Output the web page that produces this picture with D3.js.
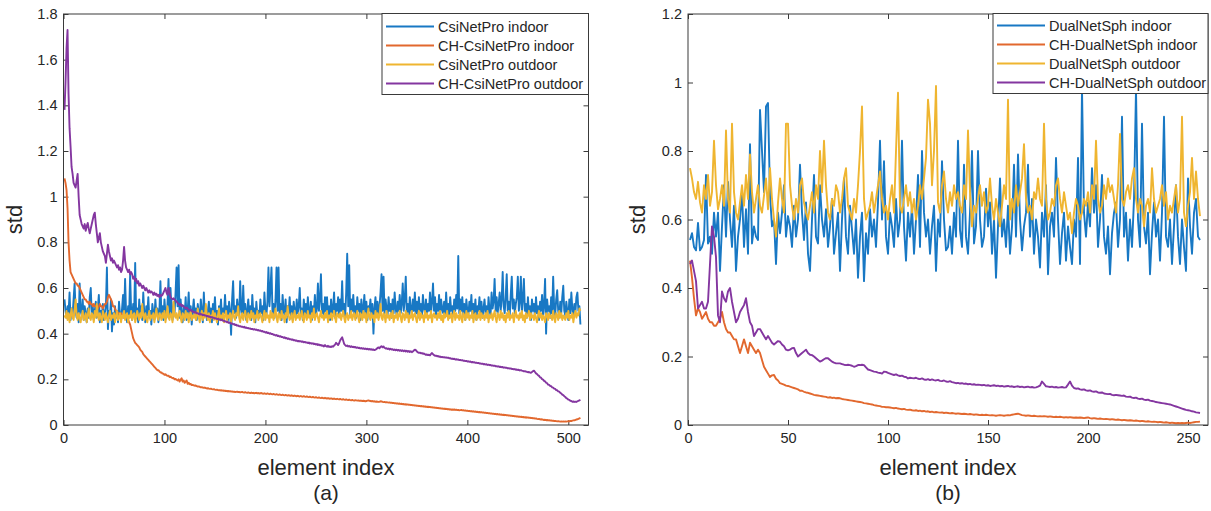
<!DOCTYPE html>
<html><head><meta charset="utf-8">
<script src="https://cdnjs.cloudflare.com/ajax/libs/d3/7.8.5/d3.min.js"></script>
<style>
html,body{margin:0;padding:0;background:#fff;}
svg{display:block;}
text{font-family:"Liberation Sans",Arial,Helvetica,sans-serif;}
</style></head>
<body>
<svg id="chart" width="1211" height="511"></svg>
<script>
// ---------- DATA ----------
const aXTicks = [0,100,200,300,400,500];
const aYTicks = [0,0.2,0.4,0.6,0.8,1,1.2,1.4,1.6,1.8];
const aYLabels = ["0","0.2","0.4","0.6","0.8","1","1.2","1.4","1.6","1.8"];
const bXTicks = [0,50,100,150,200,250];
const bYTicks = [0,0.2,0.4,0.6,0.8,1,1.2];
const bYLabels = ["0","0.2","0.4","0.6","0.8","1","1.2"];

const aNames = ["CsiNetPro indoor","CH-CsiNetPro indoor","CsiNetPro outdoor","CH-CsiNetPro outdoor"];
const bNames = ["DualNetSph indoor","CH-DualNetSph indoor","DualNetSph outdoor","CH-DualNetSph outdoor"];

// (a) CsiNetPro indoor
const aBlue = [
.55,.50,.47,.52,.49,.58,.46,.51,.48,.55,.62,.50,.47,.53,.45,.62,
.50,.48,.55,.46,.52,.49,.45,.51,.47,.56,.60,.48,.52,.46,.50,.54,
.47,.51,.57,.45,.50,.48,.53,.46,.49,.52,.69,.42,.50,.47,.55,.41,
.49,.44,.52,.47,.50,.45,.54,.48,.46,.51,.57,.47,.64,.49,.45,.52,
.48,.66,.50,.46,.53,.49,.71,.47,.51,.45,.55,.48,.52,.46,.58,.49,
.45,.52,.48,.56,.47,.50,.44,.53,.49,.46,.55,.48,.51,.45,.50,.63,
.48,.52,.46,.55,.49,.47,.53,.64,.48,.60,.50,.46,.54,.49,.58,.69,
.52,.70,.47,.55,.49,.45,.52,.48,.56,.46,.50,.58,.47,.52,.44,.50,
.55,.48,.51,.46,.53,.49,.47,.55,.50,.45,.58,.48,.52,.46,.50,.54,
.47,.51,.45,.53,.49,.56,.47,.50,.44,.52,.48,.55,.46,.51,.49,.57,
.48,.52,.46,.54,.50,.395,.55,.63,.49,.52,.47,.55,.50,.48,.63,.51,
.47,.61,.49,.53,.46,.50,.55,.48,.52,.46,.57,.49,.51,.45,.54,.48,
.50,.47,.55,.49,.52,.46,.58,.50,.48,.54,.69,.52,.60,.69,.49,.53,
.47,.55,.69,.50,.69,.48,.53,.46,.57,.50,.48,.55,.45,.52,.49,.56,
.48,.52,.46,.54,.50,.47,.55,.49,.52,.60,.48,.51,.46,.55,.49,.53,
.47,.56,.50,.48,.54,.46,.52,.49,.57,.48,.51,.62,.50,.55,.66,.49,
.53,.47,.56,.50,.56,.48,.52,.46,.55,.49,.51,.58,.47,.53,.50,.56,
.48,.55,.50,.63,.49,.53,.47,.58,.75,.52,.70,.48,.55,.50,.57,.49,
.52,.47,.56,.50,.53,.46,.55,.49,.51,.57,.48,.54,.46,.52,.50,.55,
.48,.53,.40,.51,.56,.49,.54,.48,.52,.58,.66,.50,.65,.49,.55,.51,
.48,.56,.50,.53,.47,.55,.49,.58,.51,.48,.54,.50,.57,.49,.53,.62,
.50,.55,.65,.49,.53,.47,.56,.51,.48,.55,.50,.58,.49,.54,.47,.56,
.50,.53,.48,.57,.51,.49,.55,.48,.53,.50,.58,.49,.54,.62,.50,.56,
.48,.53,.50,.57,.47,.55,.51,.49,.54,.48,.58,.50,.53,.47,.56,.50,
.52,.48,.55,.50,.57,.51,.74,.49,.55,.50,.56,.48,.53,.46,.55,.50,
.48,.54,.50,.57,.47,.53,.49,.55,.46,.52,.50,.56,.48,.54,.47,.51,
.55,.49,.52,.47,.56,.50,.48,.58,.51,.54,.64,.50,.56,.49,.53,.58,
.50,.55,.67,.52,.49,.56,.66,.50,.54,.48,.57,.65,.51,.55,.49,.53,
.56,.65,.50,.54,.65,.49,.55,.64,.50,.53,.47,.56,.49,.52,.46,.55,
.50,.53,.47,.56,.49,.52,.46,.54,.50,.57,.48,.53,.64,.40,.55,.50,
.52,.47,.56,.49,.65,.51,.48,.55,.59,.50,.47,.54,.49,.56,.61,.50,
.48,.54,.50,.46,.55,.49,.58,.51,.47,.53,.49,.56,.58,.50,.52,.44];

// (a) CH-CsiNetPro indoor
const aOrange = [
1.08,1.06,1.03,0.95,0.80,0.72,0.67,0.66,0.65,0.64,0.63,0.62,0.62,0.61,0.61,0.60,
0.59,0.58,0.57,0.56,0.55,0.55,0.54,0.54,0.53,0.54,0.53,0.53,0.52,0.53,0.52,0.52,
0.52,0.51,0.52,0.53,0.52,0.52,0.51,0.52,0.53,0.53,0.54,0.56,0.57,0.56,0.55,0.54,
0.52,0.52,0.51,0.50,0.50,0.49,0.49,0.48,0.49,0.48,0.48,0.47,0.47,0.47,0.48,0.46,
0.45,0.44,0.42,0.40,0.38,0.37,0.36,0.355,0.35,0.345,0.34,0.33,0.325,0.32,0.31,0.305,
0.30,0.295,0.29,0.285,0.28,0.275,0.27,0.265,0.26,0.255,0.25,0.245,0.24,0.24,0.235,0.23,
0.23,0.225,0.225,0.22,0.222,0.218,0.215,0.216,0.21,0.212,0.208,0.205,0.206,0.20,0.202,0.198,
0.195,0.20,0.19,0.198,0.205,0.19,0.195,0.185,0.19,0.195,0.18,0.185,0.178,0.18,0.175,0.176,
0.174,0.172,0.173,0.17,0.168,0.169,0.167,0.165,0.166,0.164,0.163,0.164,0.162,0.16,0.161,0.159,
0.158,0.159,0.157,0.156,0.157,0.155,0.154,0.155,0.153,0.152,0.153,0.151,0.152,0.15,0.151,0.149,
0.15,0.148,0.149,0.147,0.148,0.146,0.147,0.145,0.146,0.144,0.145,0.146,0.144,0.145,0.143,0.144,
0.145,0.143,0.142,0.144,0.142,0.141,0.143,0.141,0.14,0.142,0.14,0.141,0.139,0.14,0.141,0.139,
0.14,0.138,0.139,0.14,0.138,0.137,0.139,0.137,0.136,0.138,0.136,0.135,0.137,0.135,0.134,0.136,
0.134,0.133,0.135,0.133,0.132,0.134,0.132,0.131,0.133,0.131,0.13,0.132,0.13,0.129,0.131,0.129,
0.128,0.13,0.128,0.127,0.129,0.127,0.126,0.128,0.126,0.125,0.127,0.125,0.124,0.126,0.124,0.123,
0.125,0.123,0.122,0.124,0.122,0.121,0.123,0.121,0.12,0.122,0.12,0.119,0.121,0.119,0.118,0.12,
0.118,0.117,0.119,0.117,0.116,0.118,0.116,0.115,0.117,0.115,0.114,0.116,0.114,0.113,0.115,0.113,
0.112,0.114,0.112,0.111,0.113,0.111,0.11,0.112,0.11,0.109,0.111,0.109,0.108,0.11,0.108,0.107,
0.109,0.108,0.107,0.108,0.106,0.107,0.106,0.105,0.106,0.105,0.104,0.105,0.107,0.108,0.106,0.105,
0.104,0.105,0.103,0.104,0.102,0.103,0.102,0.101,0.102,0.104,0.103,0.101,0.1,0.101,0.099,0.1,
0.099,0.098,0.099,0.097,0.098,0.096,0.097,0.095,0.096,0.094,0.095,0.093,0.094,0.092,0.093,0.091,
0.092,0.09,0.091,0.089,0.09,0.088,0.089,0.087,0.088,0.086,0.087,0.085,0.086,0.084,0.085,0.083,
0.084,0.082,0.083,0.081,0.082,0.08,0.081,0.079,0.08,0.078,0.079,0.077,0.078,0.076,0.077,0.075,
0.076,0.074,0.075,0.073,0.074,0.072,0.073,0.071,0.072,0.07,0.071,0.069,0.07,0.068,0.069,0.067,
0.068,0.067,0.068,0.066,0.067,0.065,0.066,0.064,0.065,0.066,0.064,0.065,0.063,0.064,0.062,0.063,
0.061,0.062,0.06,0.061,0.059,0.06,0.058,0.059,0.057,0.058,0.056,0.057,0.055,0.056,0.054,0.055,
0.053,0.054,0.052,0.053,0.051,0.052,0.05,0.051,0.049,0.05,0.048,0.049,0.047,0.048,0.046,0.047,
0.045,0.046,0.044,0.045,0.043,0.044,0.042,0.043,0.041,0.042,0.04,0.041,0.039,0.04,0.038,0.039,
0.037,0.038,0.036,0.037,0.035,0.036,0.034,0.035,0.033,0.034,0.032,0.033,0.031,0.032,0.03,0.031,
0.029,0.03,0.028,0.029,0.027,0.026,0.027,0.025,0.024,0.025,0.023,0.022,0.023,0.021,0.022,0.02,
0.021,0.019,0.02,0.018,0.019,0.017,0.018,0.017,0.016,0.017,0.016,0.015,0.016,0.015,0.016,0.015,
0.016,0.015,0.016,0.017,0.016,0.018,0.017,0.019,0.02,0.021,0.022,0.024,0.025,0.027,0.029,0.031];

// (a) CsiNetPro outdoor
const aYellow = [
.48,.47,.50,.46,.49,.45,.48,.51,.47,.46,.50,.55,.48,.46,.49,.47,
.45,.48,.50,.46,.47,.49,.45,.48,.51,.47,.46,.49,.48,.45,.50,.47,
.53,.48,.46,.49,.47,.45,.50,.48,.46,.49,.47,.45,.48,.50,.46,.48,
.47,.49,.45,.48,.50,.46,.47,.49,.45,.48,.47,.50,.46,.48,.49,.45,
.48,.47,.50,.46,.48,.49,.45,.47,.50,.48,.46,.49,.47,.53,.48,.46,
.49,.47,.45,.48,.50,.46,.48,.47,.49,.45,.48,.51,.47,.46,.49,.48,
.46,.49,.47,.50,.45,.48,.52,.47,.46,.49,.48,.45,.54,.48,.47,.49,
.46,.48,.50,.47,.45,.49,.48,.46,.50,.47,.49,.45,.48,.50,.46,.48,
.47,.49,.46,.48,.51,.47,.45,.48,.50,.46,.49,.47,.53,.48,.46,.49,
.45,.48,.47,.50,.46,.49,.47,.45,.48,.51,.46,.48,.47,.49,.45,.48,
.50,.46,.48,.47,.49,.45,.48,.50,.47,.46,.49,.48,.52,.47,.45,.48,
.49,.46,.48,.50,.47,.45,.49,.48,.46,.50,.47,.49,.45,.48,.47,.50,
.46,.48,.49,.47,.45,.48,.50,.46,.49,.47,.48,.45,.50,.47,.49,.46,
.48,.51,.47,.45,.49,.48,.46,.50,.47,.48,.45,.49,.47,.52,.48,.46,
.47,.49,.45,.48,.50,.46,.48,.47,.49,.46,.48,.50,.47,.45,.49,.48,
.46,.50,.47,.48,.45,.49,.47,.51,.46,.48,.49,.47,.45,.48,.50,.47,
.48,.46,.49,.47,.50,.45,.48,.47,.49,.46,.48,.50,.47,.45,.49,.48,
.47,.49,.46,.48,.50,.47,.45,.48,.49,.46,.48,.47,.50,.46,.48,.49,
.46,.48,.50,.47,.45,.49,.48,.46,.50,.47,.49,.45,.48,.51,.47,.46,
.49,.47,.48,.45,.50,.47,.49,.46,.48,.53,.47,.46,.49,.48,.45,.50,
.47,.48,.46,.49,.47,.50,.45,.48,.47,.49,.46,.48,.50,.47,.45,.49,
.48,.46,.50,.47,.49,.45,.48,.47,.50,.46,.48,.49,.47,.45,.48,.50,
.46,.49,.47,.48,.45,.50,.47,.49,.46,.48,.47,.50,.45,.48,.49,.47,
.48,.46,.49,.47,.50,.46,.48,.45,.49,.47,.48,.50,.46,.48,.47,.49,
.45,.48,.50,.46,.49,.47,.48,.46,.50,.47,.45,.49,.48,.46,.50,.47,
.49,.46,.48,.47,.50,.45,.48,.49,.46,.48,.47,.50,.46,.49,.47,.48,
.46,.49,.47,.50,.45,.48,.47,.49,.46,.48,.50,.47,.45,.49,.48,.46,
.50,.47,.49,.46,.48,.45,.49,.47,.50,.46,.48,.47,.49,.45,.48,.50,
.47,.48,.46,.49,.47,.50,.46,.48,.45,.49,.47,.48,.50,.46,.49,.47,
.48,.46,.49,.47,.45,.48,.50,.47,.49,.46,.48,.47,.45,.49,.48,.46,
.49,.47,.48,.46,.50,.47,.45,.49,.48,.46,.50,.47,.49,.46,.48,.47,
.46,.49,.47,.50,.46,.48,.47,.49,.45,.48,.50,.47,.49,.48,.51,.50];

// (a) CH-CsiNetPro outdoor
const aPurple = [
1.38,1.50,1.65,1.73,1.45,1.30,1.22,1.13,1.10,1.06,1.05,1.04,1.07,1.10,1.00,0.92,
0.90,0.88,0.87,0.86,0.88,0.85,0.87,0.885,0.86,0.84,0.86,0.88,0.90,0.92,0.93,0.88,
0.84,0.80,0.82,0.84,0.80,0.78,0.76,0.75,0.74,0.71,0.75,0.79,0.76,0.74,0.72,0.73,
0.71,0.72,0.71,0.70,0.69,0.70,0.68,0.69,0.67,0.68,0.72,0.78,0.72,0.69,0.68,0.67,
0.68,0.66,0.67,0.66,0.64,0.65,0.63,0.64,0.62,0.63,0.61,0.62,0.61,0.60,0.61,0.60,
0.59,0.60,0.59,0.58,0.59,0.58,0.585,0.58,0.57,0.58,0.57,0.575,0.565,0.57,0.56,0.57,
0.565,0.57,0.58,0.59,0.60,0.58,0.57,0.60,0.58,0.56,0.555,0.55,0.555,0.55,0.545,0.54,
0.535,0.53,0.525,0.53,0.52,0.525,0.52,0.515,0.51,0.515,0.51,0.505,0.50,0.505,0.50,0.495,
0.497,0.492,0.494,0.489,0.49,0.486,0.488,0.484,0.485,0.481,0.483,0.479,0.48,0.476,0.478,0.474,
0.475,0.471,0.473,0.469,0.47,0.466,0.468,0.464,0.465,0.461,0.463,0.459,0.46,0.456,0.457,0.453,
0.454,0.45,0.451,0.447,0.448,0.444,0.445,0.441,0.442,0.438,0.439,0.435,0.436,0.432,0.433,0.43,
0.431,0.428,0.43,0.426,0.427,0.424,0.425,0.422,0.423,0.42,0.421,0.418,0.42,0.417,0.418,0.415,
0.416,0.413,0.414,0.41,0.412,0.408,0.409,0.405,0.407,0.403,0.404,0.40,0.402,0.398,0.399,0.395,
0.396,0.392,0.394,0.39,0.391,0.387,0.389,0.385,0.386,0.382,0.384,0.38,0.381,0.377,0.379,0.375,
0.376,0.373,0.375,0.371,0.372,0.369,0.37,0.367,0.368,0.366,0.367,0.364,0.366,0.362,0.364,0.361,
0.362,0.359,0.361,0.357,0.359,0.356,0.358,0.354,0.356,0.352,0.355,0.35,0.353,0.349,0.351,0.347,
0.348,0.344,0.35,0.345,0.343,0.347,0.342,0.344,0.341,0.345,0.343,0.348,0.352,0.36,0.355,0.35,
0.358,0.37,0.378,0.384,0.37,0.355,0.35,0.346,0.348,0.344,0.346,0.342,0.345,0.341,0.343,0.34,
0.342,0.338,0.34,0.337,0.339,0.335,0.337,0.334,0.336,0.333,0.335,0.332,0.334,0.331,0.333,0.33,
0.332,0.329,0.331,0.328,0.33,0.333,0.337,0.34,0.336,0.342,0.345,0.34,0.344,0.338,0.335,0.336,
0.333,0.335,0.331,0.334,0.33,0.332,0.328,0.331,0.327,0.33,0.326,0.329,0.325,0.328,0.324,0.327,
0.323,0.326,0.322,0.325,0.321,0.324,0.32,0.323,0.319,0.322,0.326,0.33,0.328,0.322,0.318,0.316,
0.317,0.314,0.315,0.312,0.313,0.31,0.307,0.309,0.306,0.308,0.305,0.311,0.315,0.31,0.306,0.303,
0.304,0.301,0.302,0.299,0.3,0.297,0.298,0.296,0.297,0.295,0.296,0.294,0.295,0.292,0.293,0.29,
0.291,0.289,0.29,0.287,0.288,0.286,0.287,0.284,0.285,0.283,0.284,0.281,0.282,0.28,0.281,0.278,
0.279,0.277,0.278,0.275,0.276,0.274,0.275,0.272,0.273,0.271,0.272,0.269,0.27,0.268,0.269,0.266,
0.267,0.265,0.266,0.263,0.264,0.262,0.263,0.26,0.261,0.259,0.26,0.257,0.258,0.256,0.257,0.254,
0.255,0.253,0.254,0.251,0.252,0.25,0.251,0.248,0.249,0.247,0.248,0.245,0.246,0.244,0.245,0.242,
0.243,0.241,0.242,0.239,0.24,0.238,0.237,0.235,0.236,0.234,0.233,0.231,0.232,0.23,0.229,0.232,
0.236,0.238,0.232,0.226,0.223,0.218,0.215,0.209,0.207,0.201,0.199,0.193,0.191,0.185,0.183,0.177,
0.176,0.171,0.17,0.165,0.164,0.159,0.158,0.153,0.152,0.147,0.146,0.141,0.138,0.133,0.131,0.126,
0.123,0.118,0.116,0.111,0.11,0.106,0.105,0.102,0.103,0.101,0.102,0.101,0.104,0.106,0.108,0.11];

// (b) DualNetSph indoor
const bBlue = [
.54,.56,.52,.51,.59,.51,.52,.54,.73,.53,.55,.50,.62,.55,.62,.45,
.58,.70,.55,.71,.60,.52,.64,.45,.55,.60,.68,.52,.63,.50,.82,.53,
.58,.55,.54,.92,.80,.68,.93,.94,.67,.58,.60,.47,.62,.56,.62,.70,
.55,.61,.58,.52,.64,.55,.60,.76,.62,.54,.65,.50,.45,.60,.73,.55,
.53,.70,.60,.55,.63,.52,.58,.66,.50,.56,.62,.45,.60,.72,.55,.50,
.64,.57,.50,.60,.43,.55,.62,.42,.56,.50,.63,.55,.60,.52,.65,.83,
.60,.77,.55,.50,.62,.58,.52,.66,.55,.60,.83,.58,.48,.62,.55,.64,
.50,.60,.73,.52,.80,.62,.55,.60,.50,.58,.64,.45,.60,.55,.77,.60,
.51,.52,.58,.50,.62,.55,.83,.57,.52,.76,.55,.50,.62,.80,.53,.58,
.80,.60,.52,.55,.69,.58,.65,.50,.60,.43,.58,.72,.55,.60,.52,.64,
.50,.58,.76,.55,.79,.60,.51,.58,.62,.76,.55,.66,.50,.60,.55,.46,
.62,.55,.70,.44,.58,.62,.55,.78,.60,.47,.56,.62,.48,.58,.52,.47,
.60,.55,.78,.47,.98,.62,.55,.65,.58,.75,.62,.70,.52,.60,.73,.55,
.50,.58,.44,.56,.62,.65,.52,.60,.90,.55,.62,.48,.60,.52,.66,.98,
.60,.52,.88,.58,.53,.62,.44,.56,.65,.55,.60,.48,.62,.90,.55,.52,
.60,.47,.58,.70,.55,.47,.60,.52,.45,.72,.58,.50,.62,.66,.55,.54];

// (b) CH-DualNetSph indoor
const bOrange = [
.48,.43,.37,.32,.34,.33,.31,.32,.33,.31,.30,.30,.29,.29,.30,.31,
.33,.30,.28,.27,.27,.26,.25,.25,.23,.21,.23,.25,.23,.21,.24,.23,
.22,.21,.22,.21,.19,.17,.16,.15,.14,.145,.146,.135,.13,.122,.12,.118,
.115,.114,.112,.11,.108,.106,.104,.10,.10,.097,.095,.094,.092,.09,.088,.087,
.086,.085,.084,.083,.082,.08,.081,.079,.08,.078,.079,.078,.076,.075,.074,.073,
.072,.071,.07,.069,.068,.067,.066,.064,.063,.062,.061,.06,.058,.057,.056,.055,
.053,.053,.052,.052,.051,.05,.049,.05,.048,.047,.046,.047,.045,.044,.045,.043,
.042,.043,.041,.042,.04,.041,.039,.04,.038,.039,.037,.038,.037,.036,.037,.035,
.036,.035,.034,.035,.034,.033,.034,.033,.032,.033,.032,.031,.032,.031,.03,.031,
.03,.029,.03,.029,.03,.029,.028,.029,.028,.027,.028,.029,.028,.027,.028,.029,
.028,.03,.031,.032,.033,.031,.029,.028,.027,.028,.027,.026,.027,.026,.025,.026,
.025,.026,.025,.024,.025,.024,.023,.024,.023,.024,.023,.022,.023,.022,.023,.022,
.021,.022,.021,.022,.021,.02,.021,.022,.02,.019,.02,.019,.018,.019,.018,.017,
.018,.017,.016,.017,.016,.015,.016,.015,.014,.015,.014,.013,.014,.013,.012,.013,
.012,.011,.012,.011,.01,.011,.01,.009,.01,.009,.008,.009,.008,.007,.008,.007,
.006,.007,.006,.005,.006,.005,.006,.005,.006,.007,.006,.007,.008,.009,.009,.01];

// (b) DualNetSph outdoor
const bYellow = [
.75,.72,.68,.66,.71,.65,.62,.70,.66,.73,.64,.68,.83,.70,.63,.66,
.70,.64,.86,.66,.62,.88,.68,.62,.60,.65,.70,.64,.73,.66,.79,.68,
.62,.66,.70,.64,.62,.67,.72,.63,.75,.66,.60,.55,.65,.72,.66,.62,
.88,.88,.70,.64,.60,.66,.62,.70,.72,.65,.62,.60,.64,.68,.62,.70,
.66,.80,.68,.83,.70,.62,.60,.66,.64,.70,.68,.62,.66,.72,.75,.64,
.62,.60,.66,.62,.70,.80,.93,.66,.60,.62,.64,.68,.62,.66,.70,.74,
.66,.62,.64,.60,.66,.70,.62,.80,.97,.64,.62,.66,.70,.64,.68,.62,
.66,.60,.64,.70,.66,.72,.78,.95,.88,.70,.80,.99,.65,.62,.70,.74,
.66,.62,.68,.64,.70,.66,.68,.64,.62,.70,.66,.86,.68,.58,.64,.62,
.66,.70,.64,.68,.62,.64,.72,.64,.60,.66,.62,.58,.64,.70,.66,.95,
.60,.66,.62,.70,.64,.68,.72,.82,.66,.62,.64,.60,.68,.66,.72,.66,
.64,.88,.66,.60,.62,.66,.64,.70,.72,.66,.62,.68,.64,.60,.62,.56,
.62,.66,.64,.60,.62,.66,.64,.68,.62,.70,.66,.83,.66,.62,.64,.70,
.66,.72,.68,.70,.66,.62,.70,.85,.66,.64,.68,.70,.66,.72,.75,.66,
.62,.66,.64,.58,.64,.66,.62,.75,.66,.62,.64,.66,.70,.64,.68,.60,
.64,.62,.66,.70,.62,.66,.90,.62,.58,.64,.68,.78,.66,.74,.66,.61];

// (b) CH-DualNetSph outdoor
const bPurple = [
.47,.48,.45,.42,.34,.35,.36,.34,.34,.36,.47,.58,.55,.49,.32,.30,
.39,.37,.36,.39,.40,.36,.33,.30,.31,.33,.34,.35,.37,.33,.30,.29,
.26,.27,.28,.28,.27,.26,.25,.26,.25,.24,.235,.24,.245,.243,.235,.23,
.22,.218,.22,.224,.225,.21,.20,.205,.21,.215,.22,.21,.205,.204,.20,.195,
.19,.185,.188,.192,.195,.195,.19,.185,.182,.18,.18,.18,.178,.176,.175,.176,
.175,.173,.17,.172,.175,.175,.176,.175,.168,.162,.16,.158,.156,.155,.153,.152,
.15,.156,.155,.152,.15,.148,.146,.148,.145,.143,.144,.141,.14,.136,.138,.137,
.136,.138,.135,.134,.136,.133,.132,.134,.131,.133,.131,.13,.132,.129,.128,.13,
.127,.126,.128,.125,.124,.122,.123,.121,.122,.12,.121,.119,.12,.118,.119,.117,
.118,.117,.116,.117,.115,.116,.114,.115,.116,.114,.115,.113,.114,.112,.113,.114,
.112,.113,.111,.112,.113,.111,.112,.11,.111,.112,.11,.111,.109,.11,.112,.115,
.127,.12,.113,.112,.111,.112,.11,.111,.109,.11,.111,.109,.11,.118,.127,.115,
.108,.106,.107,.104,.103,.104,.101,.1,.101,.098,.097,.098,.095,.094,.095,.092,
.091,.09,.091,.088,.087,.088,.087,.086,.085,.086,.083,.082,.083,.08,.079,.08,
.077,.076,.077,.074,.073,.074,.071,.07,.069,.067,.066,.065,.064,.063,.062,.061,
.06,.058,.056,.054,.052,.05,.048,.046,.044,.043,.042,.04,.039,.037,.036,.035];

const seriesColors = ["#1878c4","#e2682e","#efb530","#8436a0"];

// ---------- DRAW ----------
const svg = d3.select("#chart");
const FONT = '"Liberation Sans",Arial,Helvetica,sans-serif';
const TXT = "#262626";
const AXC = "#3a3a3a";

function drawPanel(cfg) {
  const g = svg.append("g");
  const x = d3.scaleLinear().domain(cfg.xDomain).range([cfg.left, cfg.right]);
  const y = d3.scaleLinear().domain(cfg.yDomain).range([cfg.bottom, cfg.top]);
  const clipId = "clip" + cfg.id;
  svg.append("clipPath").attr("id", clipId).append("rect")
    .attr("x", cfg.left).attr("y", cfg.top)
    .attr("width", cfg.right - cfg.left).attr("height", cfg.bottom - cfg.top);

  const fmtY = (d) => cfg.yLabels[cfg.yTicks.indexOf(d)];
  const axB = d3.axisBottom(x).tickValues(cfg.xTicks).tickSizeInner(-5).tickSizeOuter(0).tickPadding(8).tickFormat(d3.format("d"));
  const axT = d3.axisTop(x).tickValues(cfg.xTicks).tickSizeInner(-5).tickSizeOuter(0).tickFormat("");
  const axL = d3.axisLeft(y).tickValues(cfg.yTicks).tickSizeInner(-5).tickSizeOuter(0).tickPadding(6).tickFormat(fmtY);
  const axR = d3.axisRight(y).tickValues(cfg.yTicks).tickSizeInner(-5).tickSizeOuter(0).tickFormat("");
  const gB = g.append("g").attr("transform", `translate(0,${cfg.bottom})`).call(axB);
  const gT = g.append("g").attr("transform", `translate(0,${cfg.top})`).call(axT);
  const gL = g.append("g").attr("transform", `translate(${cfg.left},0)`).call(axL);
  const gR = g.append("g").attr("transform", `translate(${cfg.right},0)`).call(axR);
  [gB, gT, gL, gR].forEach(a => {
    a.select(".domain").remove();
    a.selectAll("line").attr("stroke", AXC).attr("stroke-width", 1);
    a.selectAll("text").attr("fill", TXT).style("font-family", FONT).style("font-size", "14.5px");
  });

  const line = d3.line().x((d, i) => x(i + 1)).y(d => y(d));
  const lines = g.append("g").attr("clip-path", `url(#${clipId})`);
  cfg.series.forEach((s, k) => {
    lines.append("path").datum(s)
      .attr("d", line).attr("fill", "none")
      .attr("stroke", seriesColors[k]).attr("stroke-width", 1.9)
      .attr("stroke-linejoin", "round");
  });

  g.append("rect").attr("x", cfg.left).attr("y", cfg.top)
    .attr("width", cfg.right - cfg.left).attr("height", cfg.bottom - cfg.top)
    .attr("fill", "none").attr("stroke", AXC).attr("stroke-width", 1);

  const L = cfg.legend;
  const lg = g.append("g");
  lg.append("rect").attr("x", L.x).attr("y", L.y).attr("width", L.w).attr("height", L.h)
    .attr("fill", "#fff").attr("stroke", AXC).attr("stroke-width", 1);
  cfg.names.forEach((n, k) => {
    const cy = L.y + L.first + k * L.step;
    lg.append("line").attr("x1", L.x + 4).attr("x2", L.x + 52).attr("y1", cy).attr("y2", cy)
      .attr("stroke", seriesColors[k]).attr("stroke-width", 1.9);
    lg.append("text").attr("x", L.x + 56).attr("y", cy).attr("dy", "0.35em")
      .attr("fill", TXT).style("font-family", FONT).style("font-size", "14.5px").text(n);
  });

  const cx = (cfg.left + cfg.right) / 2;
  g.append("text").attr("x", cx).attr("y", 475).attr("text-anchor", "middle")
    .attr("fill", TXT).style("font-family", FONT).style("font-size", "22px").text("element index");
  g.append("text").attr("x", cx).attr("y", 500).attr("text-anchor", "middle")
    .attr("fill", TXT).style("font-family", FONT).style("font-size", "21px").text(cfg.tag);
  g.append("text").attr("transform", `translate(${cfg.stdX},${(cfg.top + cfg.bottom) / 2}) rotate(-90)`)
    .attr("text-anchor", "middle").attr("fill", TXT)
    .style("font-family", FONT).style("font-size", "22px").text("std");
}

drawPanel({
  id: "a", left: 63.5, right: 588.5, top: 14, bottom: 425,
  xDomain: [0, 520], yDomain: [0, 1.8],
  xTicks: aXTicks, yTicks: aYTicks, yLabels: aYLabels,
  series: [aBlue, aOrange, aYellow, aPurple], names: aNames,
  legend: { x: 382, y: 13.5, w: 206.5, h: 81, first: 13, step: 19 },
  tag: "(a)", stdX: 22
});
drawPanel({
  id: "b", left: 688, right: 1208, top: 14, bottom: 425,
  xDomain: [0, 260], yDomain: [0, 1.2],
  xTicks: bXTicks, yTicks: bYTicks, yLabels: bYLabels,
  series: [bBlue, bOrange, bYellow, bPurple], names: bNames,
  legend: { x: 993, y: 13.5, w: 215, h: 80, first: 12, step: 19 },
  tag: "(b)", stdX: 645
});
</script>
</body></html>
